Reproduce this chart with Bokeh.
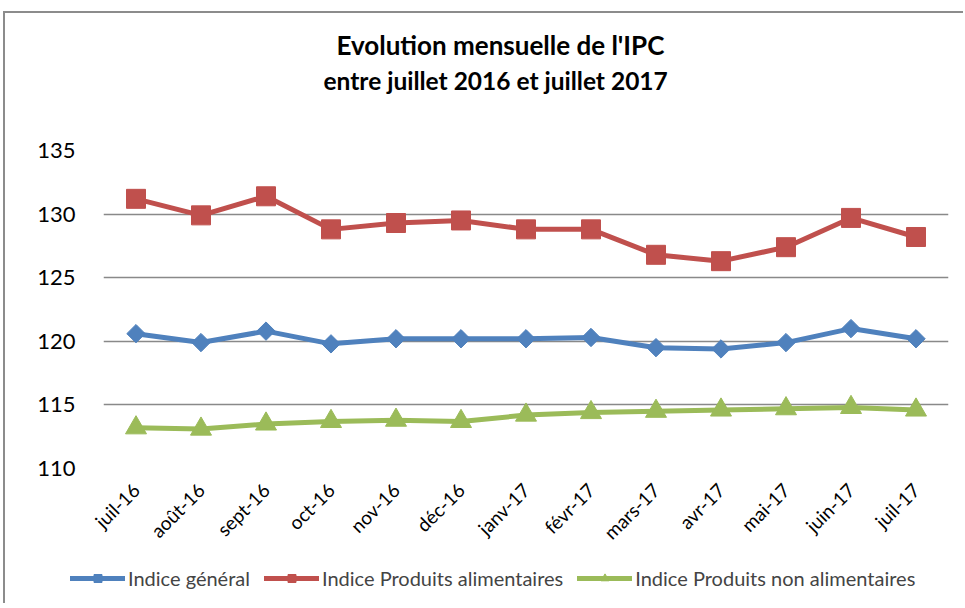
import math
from bokeh.plotting import figure
from bokeh.layouts import column
from bokeh.models import ColumnDataSource, FactorRange, Range1d, Legend, LegendItem, Title, FixedTicker
from bokeh.embed import file_html
from bokeh.resources import INLINE

months = ["juil-16", "août-16", "sept-16", "oct-16", "nov-16", "déc-16",
          "janv-17", "févr-17", "mars-17", "avr-17", "mai-17", "juin-17", "juil-17"]
indice_general = [120.6, 119.9, 120.8, 119.8, 120.2, 120.2, 120.2, 120.3, 119.5, 119.4, 119.9, 121.0, 120.2]
produits_alimentaires = [131.2, 129.9, 131.4, 128.8, 129.3, 129.5, 128.8, 128.8, 126.8, 126.3, 127.4, 129.7, 128.2]
produits_non_alimentaires = [113.2, 113.1, 113.5, 113.7, 113.8, 113.7, 114.2, 114.4, 114.5, 114.6, 114.7, 114.8, 114.6]
y_ticks = [110, 115, 120, 125, 130, 135]
series_names = ["Indice général", "Indice Produits alimentaires", "Indice Produits non alimentaires"]
title_lines = ["Evolution mensuelle de l'IPC", "entre juillet 2016 et juillet 2017"]

BLUE = "#4F81BD"
RED = "#C0504D"
GREEN = "#9BBB59"
FONT = "Lato"

src = ColumnDataSource(dict(m=months, g=indice_general, a=produits_alimentaires, n=produits_non_alimentaires))

# ---------------- main chart ----------------
p = figure(x_range=FactorRange(*months), y_range=Range1d(110, 135),
           width=958, height=550, output_backend="svg", toolbar_location=None,
           min_border_left=98, min_border_right=15, min_border_top=137, min_border_bottom=95,
           title=title_lines[0])
p.frame_align = False

# spacer nearest to the frame, then subtitle, then main title (outermost)
spacer = Title(text=" ", text_font=FONT, text_font_size="26px", standoff=21)
p.add_layout(spacer, "above")
sub = Title(text=title_lines[1], text_font=FONT, text_font_style="bold", text_font_size="24.5px",
            text_color="black", align="left", offset=220, standoff=2)
p.add_layout(sub, "above")

p.title.text_font = FONT
p.title.text_font_style = "bold"
p.title.text_font_size = "26px"
p.title.text_color = "black"
p.title.align = "left"
p.title.offset = 233
p.title.standoff = 4

p.outline_line_color = None
p.xgrid.grid_line_color = None
p.ygrid.grid_line_color = "#898989"
p.ygrid.grid_line_width = 1.5
p.yaxis.ticker = FixedTicker(ticks=y_ticks)

for ax in (p.xaxis[0], p.yaxis[0]):
    ax.axis_line_color = None
    ax.major_tick_line_color = None
    ax.minor_tick_line_color = None
    ax.major_label_text_font = FONT
    ax.major_label_text_color = "black"

p.yaxis.major_label_text_font_size = "22px"
p.yaxis.major_label_standoff = 22
p.xaxis.major_label_text_font_size = "19px"
p.xaxis.major_label_orientation = math.pi / 4
p.xaxis.major_label_standoff = 12

p.line("m", "g", source=src, line_color=BLUE, line_width=5, line_join="round")
p.scatter("m", "g", source=src, marker="square", angle=math.pi / 4, size=13, color=BLUE)
p.line("m", "a", source=src, line_color=RED, line_width=5, line_join="round")
p.scatter("m", "a", source=src, marker="square", size=19, color=RED)
p.line("m", "n", source=src, line_color=GREEN, line_width=5, line_join="round")
p.scatter("m", "n", source=src, marker="triangle", size=21, color=GREEN)

# ---------------- legend strip ----------------
lp = figure(x_range=p.x_range, y_range=Range1d(0, 1), width=958, height=40,
            output_backend="svg", toolbar_location=None,
            x_axis_location=None, y_axis_location=None,
            min_border_left=0, min_border_right=0, min_border_top=0, min_border_bottom=0)
lp.frame_align = False
lp.outline_line_color = None
lp.grid.visible = False

lg = []
for col, marker, size, angle, color in (("g", "square", 8, math.pi / 4, BLUE),
                                         ("a", "square", 11, 0, RED),
                                         ("n", "triangle", 11, 0, GREEN)):
    rl = lp.line("m", col, source=src, line_color=color, line_width=5, line_cap="round")
    rs = lp.scatter("m", col, source=src, marker=marker, size=size, angle=angle, color=color)
    lg.append([rl, rs])

legend = Legend(items=[LegendItem(label=series_names[i], renderers=lg[i]) for i in range(3)],
                orientation="horizontal", location=(65, 13),
                glyph_width=55, glyph_height=20, label_standoff=3, spacing=14,
                padding=0, margin=0, border_line_color=None, background_fill_alpha=0,
                label_text_font=FONT, label_text_font_size="20px", label_height=20)
lp.add_layout(legend)

layout = column(p, lp, spacing=0)
layout.styles = {"position": "relative", "left": "3px", "top": "11px",
                 "border-left": "2px solid #8c8c8c", "border-top": "2px solid #8c8c8c"}

open("out.html", "w").write(file_html(layout, INLINE))
